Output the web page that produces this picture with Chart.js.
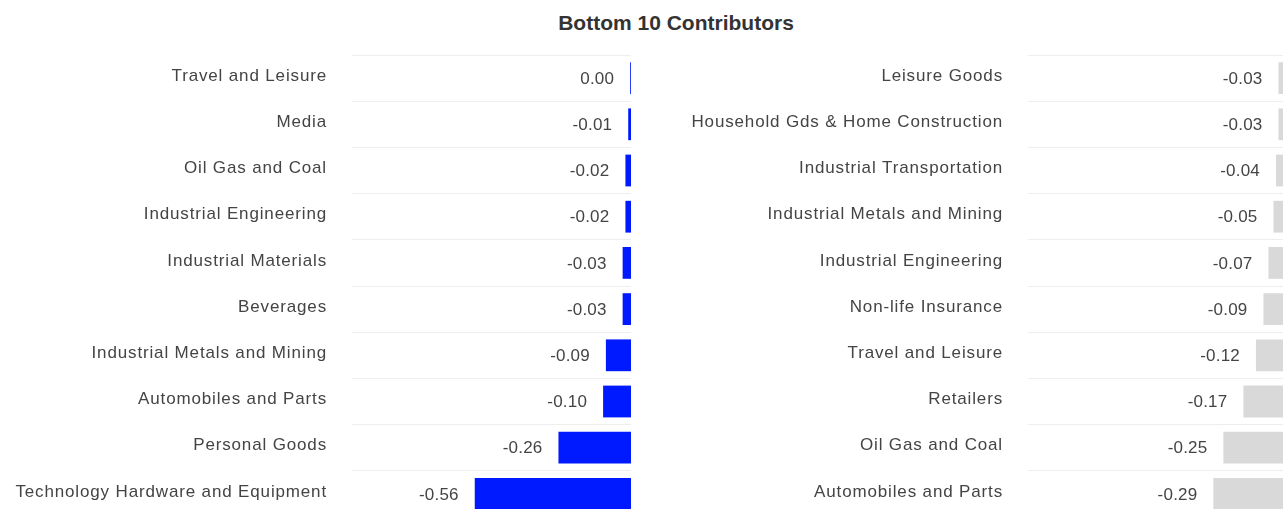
<!DOCTYPE html>
<html>
<head>
<meta charset="utf-8">
<title>Bottom 10 Contributors</title>
<script src="https://cdn.jsdelivr.net/npm/chart.js@4/dist/chart.umd.min.js"></script>
<style>
    html, body { margin: 0; padding: 0; background: #fff; overflow: hidden; width: 1283px; height: 509px; }
    #title {
        position: absolute; left: 0; top: 12px; width: 1352px;
        text-align: center; font: bold 21px/1 "Liberation Sans", Arial, sans-serif; color: #333;
    }
    #leftChart { position: absolute; left: 0; top: 55px; }
    #rightChart { position: absolute; left: 640px; top: 55px; }
</style>
</head>
<body>
<div id="title">Bottom 10 Contributors</div>
<canvas id="leftChart" width="631" height="462"></canvas>
<canvas id="rightChart" width="646" height="462"></canvas>
<script>
"use strict";

// left panel
const leftCategories = [
    'Travel and Leisure', 'Media', 'Oil Gas and Coal', 'Industrial Engineering',
    'Industrial Materials', 'Beverages', 'Industrial Metals and Mining',
    'Automobiles and Parts', 'Personal Goods', 'Technology Hardware and Equipment'
];
const leftValues = [-0.003, -0.01, -0.02, -0.02, -0.03, -0.03, -0.09, -0.10, -0.26, -0.56];

// right panel
const rightCategories = [
    'Leisure Goods', 'Household Gds & Home Construction', 'Industrial Transportation',
    'Industrial Metals and Mining', 'Industrial Engineering', 'Non-life Insurance',
    'Travel and Leisure', 'Retailers', 'Oil Gas and Coal', 'Automobiles and Parts'
];
const rightValues = [-0.03, -0.03, -0.04, -0.05, -0.07, -0.09, -0.12, -0.17, -0.25, -0.29];

const fontFamily = '"Liberation Sans", Arial, sans-serif';
const textColor = '#444444';

function formatValue(v) {
    return Math.abs(v) < 0.005 ? '0.00' : v.toFixed(2);
}

// category labels in the reference are a bit looser than plain Arial
const looseText = {
    id: 'looseText',
    beforeDraw(chart) {
        chart.ctx.letterSpacing = '0.85px';
    }
};

// value labels sitting left of each bar
const barLabels = {
    id: 'barLabels',
    afterDatasetsDraw(chart) {
        const ctx = chart.ctx;
        const values = chart.data.datasets[0].data;
        ctx.save();
        ctx.letterSpacing = '0.2px';
        ctx.font = '17px ' + fontFamily;
        ctx.fillStyle = textColor;
        ctx.textAlign = 'right';
        ctx.textBaseline = 'middle';
        chart.getDatasetMeta(0).data.forEach(function (bar, i) {
            ctx.fillText(formatValue(values[i]), Math.min(bar.x, bar.base) - 16, bar.y + 1);
        });
        ctx.restore();
    }
};

function makeConfig(labels, values, color, axisWidth, xMin) {
    return {
        type: 'bar',
        data: {
            labels: labels,
            datasets: [{
                data: values,
                backgroundColor: color,
                borderWidth: 0,
                categoryPercentage: 0.8,
                barPercentage: 0.86
            }]
        },
        options: {
            indexAxis: 'y',
            responsive: false,
            animation: false,
            devicePixelRatio: 1,
            layout: { padding: 0 },
            plugins: {
                legend: { display: false },
                tooltip: { enabled: false }
            },
            scales: {
                x: {
                    display: false,
                    min: xMin,
                    max: 0
                },
                y: {
                    border: { display: false },
                    grid: { color: '#eeeeee', drawTicks: false },
                    ticks: {
                        padding: 25,
                        labelOffset: -2,
                        color: textColor,
                        font: { family: fontFamily, size: 17 }
                    },
                    afterFit: function (axis) {
                        axis.width = axisWidth;
                        axis.paddingTop = 0;
                        axis.paddingBottom = 0;
                    }
                }
            }
        },
        plugins: [looseText, barLabels]
    };
}

new Chart(document.getElementById('leftChart'),
    makeConfig(leftCategories, leftValues, '#001aff', 352, -1));
new Chart(document.getElementById('rightChart'),
    makeConfig(rightCategories, rightValues, '#d9d9d9', 388, -1.03));
</script>
</body>
</html>
